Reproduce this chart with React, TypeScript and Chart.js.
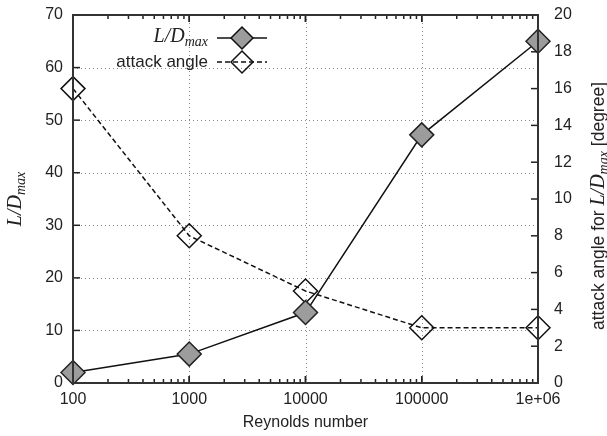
import React, { useEffect, useRef } from "react";
import { Chart, registerables } from "chart.js";

Chart.register(...registerables);

const reynolds = [100, 1000, 10000, 100000, 1000000];
const ldMax = [2, 5.5, 13.4, 47.2, 65];
const attackAngle = [16, 8, 5, 3, 3];
const xTickValues = [100, 1000, 10000, 100000, 1000000];
const xTickLabels = ["100", "1000", "10000", "100000", "1e+06"];
const xTitle = "Reynolds number";
const legendLabels = ["L/D", "attack angle"];

const SANS = '"Liberation Sans", Arial, sans-serif';
const SERIF = '"Liberation Serif", "Times New Roman", serif';

function drawLD(ctx: CanvasRenderingContext2D, x: number, y: number, align: "left" | "right" | "center") {
  const big = "italic 20px " + SERIF;
  const small = "italic 14px " + SERIF;
  ctx.font = big;
  const w1 = ctx.measureText("L/D").width;
  ctx.font = small;
  const w2 = ctx.measureText("max").width;
  const total = w1 + w2;
  let sx = x;
  if (align === "right") sx = x - total;
  if (align === "center") sx = x - total / 2;
  ctx.textAlign = "left";
  ctx.textBaseline = "middle";
  ctx.font = big;
  ctx.fillText("L/D", sx, y);
  ctx.font = small;
  ctx.fillText("max", sx + w1, y + 5);
  return total;
}

function ldWidth(ctx: CanvasRenderingContext2D) {
  ctx.font = "italic 20px " + SERIF;
  const w1 = ctx.measureText("L/D").width;
  ctx.font = "italic 14px " + SERIF;
  return w1 + ctx.measureText("max").width;
}

const decorPlugin = {
  id: "decor",
  beforeDatasetsDraw(chart: any) {
    const { ctx, chartArea: a, scales } = chart;
    ctx.save();
    ctx.strokeStyle = "#888";
    ctx.lineWidth = 1;
    ctx.setLineDash([1, 3]);
    for (let v = 10; v < 70; v += 10) {
      const y = Math.round(scales.y.getPixelForValue(v)) + 0.5;
      ctx.beginPath();
      ctx.moveTo(a.left, y);
      ctx.lineTo(a.right, y);
      ctx.stroke();
    }
    for (let i = 1; i < xTickValues.length - 1; i++) {
      const x = Math.round(scales.x.getPixelForValue(xTickValues[i])) + 0.5;
      ctx.beginPath();
      ctx.moveTo(x, a.top);
      ctx.lineTo(x, a.bottom);
      ctx.stroke();
    }
    ctx.restore();
  },
  afterDraw(chart: any) {
    const { ctx, chartArea: a, scales } = chart;
    ctx.save();
    ctx.setLineDash([]);
    ctx.strokeStyle = "#222";
    ctx.lineWidth = 1.5;
    for (let d = 2; d <= 6; d++) {
      const base = Math.pow(10, d);
      for (let m = 1; m <= 10; m++) {
        const v = base * m;
        if (v > 1000000) break;
        const x = scales.x.getPixelForValue(v);
        const len = m === 1 || m === 10 ? 7 : 4;
        ctx.beginPath();
        ctx.moveTo(x, a.bottom);
        ctx.lineTo(x, a.bottom - len);
        ctx.moveTo(x, a.top);
        ctx.lineTo(x, a.top + len);
        ctx.stroke();
      }
    }
    for (let v = 0; v <= 70; v += 10) {
      const y = scales.y.getPixelForValue(v);
      ctx.beginPath();
      ctx.moveTo(a.left, y);
      ctx.lineTo(a.left + 7, y);
      ctx.stroke();
    }
    for (let v = 0; v <= 20; v += 2) {
      const y = scales.y2.getPixelForValue(v);
      ctx.beginPath();
      ctx.moveTo(a.right, y);
      ctx.lineTo(a.right - 7, y);
      ctx.stroke();
    }
    ctx.lineWidth = 2;
    ctx.strokeStyle = "#333";
    ctx.strokeRect(a.left, a.top, a.right - a.left, a.bottom - a.top);

    ctx.fillStyle = "#222";
    ctx.font = "16px " + SANS;
    ctx.textAlign = "center";
    ctx.textBaseline = "middle";
    ctx.fillText(xTitle, (a.left + a.right) / 2, 423);

    ctx.save();
    ctx.translate(16, 199);
    ctx.rotate(-Math.PI / 2);
    drawLD(ctx, 0, 0, "center");
    ctx.restore();

    ctx.save();
    ctx.translate(599, 206);
    ctx.rotate(-Math.PI / 2);
    const p1 = "attack angle for ";
    const p3 = " [degree]";
    const titleFont = "17.5px " + SANS;
    ctx.font = titleFont;
    const w1 = ctx.measureText(p1).width;
    const w3 = ctx.measureText(p3).width;
    const wld = ldWidth(ctx);
    const total = w1 + wld + w3;
    let sx = -total / 2;
    ctx.textAlign = "left";
    ctx.textBaseline = "middle";
    ctx.font = titleFont;
    ctx.fillText(p1, sx, 0);
    sx += w1;
    drawLD(ctx, sx, 0, "left");
    sx += wld;
    ctx.font = titleFont;
    ctx.textAlign = "left";
    ctx.fillText(p3, sx, 0);
    ctx.restore();

    const lx1 = 217, lx2 = 267, lc = 242;
    const ly1 = 38, ly2 = 62;
    drawLD(ctx, 208, ly1 - 1, "right");
    ctx.font = "17px " + SANS;
    ctx.textAlign = "right";
    ctx.textBaseline = "middle";
    ctx.fillText(legendLabels[1], 208, ly2);

    ctx.strokeStyle = "#111";
    ctx.lineWidth = 1.5;
    ctx.beginPath();
    ctx.moveTo(lx1, ly1);
    ctx.lineTo(lx2, ly1);
    ctx.stroke();
    ctx.setLineDash([5, 3]);
    ctx.beginPath();
    ctx.moveTo(lx1, ly2);
    ctx.lineTo(lx2, ly2);
    ctx.stroke();
    ctx.setLineDash([]);
    const r = 11;
    ctx.beginPath();
    ctx.moveTo(lc - r, ly1);
    ctx.lineTo(lc, ly1 - r);
    ctx.lineTo(lc + r, ly1);
    ctx.lineTo(lc, ly1 + r);
    ctx.closePath();
    ctx.fillStyle = "#9c9c9c";
    ctx.fill();
    ctx.stroke();
    ctx.beginPath();
    ctx.moveTo(lc - r, ly2);
    ctx.lineTo(lc, ly2 - r);
    ctx.lineTo(lc + r, ly2);
    ctx.lineTo(lc, ly2 + r);
    ctx.closePath();
    ctx.stroke();
    ctx.restore();
  },
};

function zeroPad(s: any) {
  s.paddingTop = 0;
  s.paddingBottom = 0;
  s.paddingLeft = 0;
  s.paddingRight = 0;
}

export default function App() {
  const ref = useRef<HTMLCanvasElement | null>(null);
  useEffect(() => {
    if (!ref.current) return;
    const tickFont = { family: SANS, size: 16 };
    const chart = new Chart(ref.current, {
      type: "line",
      data: {
        datasets: [
          {
            label: legendLabels[0],
            data: reynolds.map((x, i) => ({ x, y: ldMax[i] })),
            yAxisID: "y",
            borderColor: "#111",
            borderWidth: 1.5,
            pointStyle: "rectRot",
            pointRadius: 12,
            pointBackgroundColor: "#9c9c9c",
            pointBorderColor: "#222",
            pointBorderWidth: 1.5,
            fill: false,
            tension: 0,
            clip: false,
          },
          {
            label: legendLabels[1],
            data: reynolds.map((x, i) => ({ x, y: attackAngle[i] })),
            yAxisID: "y2",
            borderColor: "#111",
            borderWidth: 1.5,
            borderDash: [5, 3],
            pointStyle: "rectRot",
            pointRadius: 12,
            pointBackgroundColor: "rgba(0,0,0,0)",
            pointBorderColor: "#111",
            pointBorderWidth: 1.5,
            fill: false,
            tension: 0,
            clip: false,
          },
        ],
      },
      options: {
        animation: false,
        responsive: false,
        maintainAspectRatio: false,
        layout: { padding: { top: 15, left: 0, right: 0, bottom: 0 } },
        plugins: { legend: { display: false }, tooltip: { enabled: false } },
        scales: {
          x: {
            type: "logarithmic",
            min: 100,
            max: 1000000,
            afterBuildTicks: (s: any) => {
              s.ticks = xTickValues.map((v) => ({ value: v }));
            },
            afterFit: (s: any) => {
              s.height = 53;
              zeroPad(s);
            },
            ticks: {
              autoSkip: false,
              maxRotation: 0,
              padding: 7,
              color: "#222",
              font: tickFont,
              callback: (v: any) => {
                const i = xTickValues.indexOf(Number(v));
                return i >= 0 ? xTickLabels[i] : "";
              },
            },
            grid: { display: false, drawTicks: false },
            border: { display: false },
          },
          y: {
            type: "linear",
            position: "left",
            min: 0,
            max: 70,
            afterFit: (s: any) => {
              s.width = 73;
              zeroPad(s);
            },
            ticks: { stepSize: 10, padding: 10, color: "#222", font: tickFont },
            grid: { display: false, drawTicks: false },
            border: { display: false },
          },
          y2: {
            type: "linear",
            position: "right",
            min: 0,
            max: 20,
            afterFit: (s: any) => {
              s.width = 69;
              zeroPad(s);
            },
            ticks: { stepSize: 2, padding: 16, color: "#222", font: tickFont },
            grid: { display: false, drawTicks: false },
            border: { display: false },
          },
        },
      },
      plugins: [decorPlugin],
    } as any);
    return () => chart.destroy();
  }, []);
  return (
    <div style={{ position: "fixed", left: 0, top: 0, width: 607, height: 436, background: "#fff" }}>
      <canvas ref={ref} width={607} height={436} style={{ width: 607, height: 436, display: "block" }} />
    </div>
  );
}
